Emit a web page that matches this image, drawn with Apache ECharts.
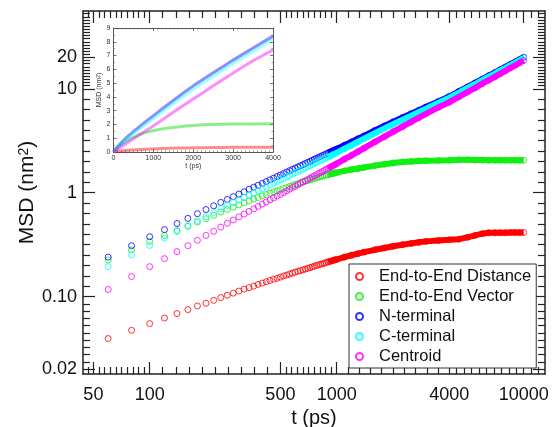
<!DOCTYPE html>
<html>
<head>
<meta charset="utf-8">
<title>MSD</title>
<script src="https://cdn.jsdelivr.net/npm/echarts@6/dist/echarts.min.js"></script>
<style>
    html, body { margin: 0; padding: 0; background: #fff; }
    #chart { width: 552px; height: 427px; }
</style>
</head>
<body>
<div id="chart"></div>
<script>
    // time points (ps)
    const times = [60, 80, 100, 120, 140, 160, 180, 200, 220, 240,
        260, 280, 300, 320, 340, 360, 380, 400, 420, 440, 460, 480, 500, 520, 540, 560, 580, 600, 620, 640,
        660, 680, 700, 720, 740, 760, 780, 800, 820, 840, 860, 880, 900, 920, 940, 960, 980, 1000,
        1100, 1200, 1300, 1400, 1600, 1800, 2000, 2250, 2500, 2750, 3000, 3500, 4000,
        4500, 5000, 5500, 6000, 6500, 7000, 7500, 8000, 8500, 9000, 9500, 10000]

    // MSD (nm^2)
    const endToEndDistance = [0.0395, 0.0474, 0.055, 0.0622, 0.0687, 0.075, 0.0813, 0.0863, 0.092, 0.0978,
        0.103, 0.108, 0.113, 0.118, 0.122, 0.126, 0.131, 0.135, 0.139, 0.143, 0.147, 0.150, 0.154, 0.158, 0.161, 0.165, 0.168, 0.172, 0.175, 0.178,
        0.181, 0.184, 0.187, 0.190, 0.193, 0.196, 0.199, 0.202, 0.205, 0.207, 0.210, 0.213, 0.216, 0.218, 0.221, 0.223, 0.226, 0.228,
        0.240, 0.250, 0.259, 0.268, 0.282, 0.294, 0.305, 0.316, 0.325, 0.333, 0.340, 0.347, 0.352,
        0.357, 0.372, 0.388, 0.403, 0.411, 0.412, 0.412, 0.412, 0.413, 0.413, 0.413, 0.414]
    const endToEndVector = [0.225, 0.281, 0.34, 0.388, 0.431, 0.474, 0.521, 0.562, 0.605, 0.651,
        0.69, 0.727, 0.763, 0.798, 0.832, 0.866, 0.898, 0.93, 0.959, 0.988, 1.02, 1.04, 1.07, 1.10, 1.12, 1.15, 1.17, 1.20, 1.22, 1.25,
        1.27, 1.29, 1.31, 1.33, 1.35, 1.37, 1.39, 1.41, 1.43, 1.44, 1.46, 1.48, 1.49, 1.51, 1.52, 1.53, 1.55, 1.56,
        1.62, 1.67, 1.71, 1.75, 1.82, 1.88, 1.93, 1.97, 2.00, 2.02, 2.03, 2.04, 2.05,
        2.07, 2.07, 2.06, 2.06, 2.05, 2.05, 2.05, 2.05, 2.05, 2.05, 2.05, 2.05]
    const nTerminal = [0.24, 0.309, 0.377, 0.441, 0.505, 0.566, 0.628, 0.688, 0.748, 0.806,
        0.861, 0.916, 0.97, 1.02, 1.08, 1.13, 1.18, 1.23, 1.28, 1.33, 1.38, 1.43, 1.48, 1.53, 1.58, 1.63, 1.68, 1.72, 1.77, 1.82,
        1.86, 1.91, 1.96, 2.00, 2.05, 2.10, 2.14, 2.19, 2.23, 2.28, 2.32, 2.37, 2.41, 2.46, 2.50, 2.54, 2.59, 2.63,
        2.86, 3.08, 3.30, 3.52, 3.96, 4.39, 4.80, 5.28, 5.75, 6.21, 6.67, 7.55, 8.41,
        9.41, 10.4, 11.38, 12.35, 13.34, 14.3, 15.28, 16.2, 17.2, 18.1, 19.1, 20.1]
    const cTerminal = [0.194, 0.253, 0.311, 0.366, 0.425, 0.482, 0.538, 0.588, 0.643, 0.702,
        0.752, 0.803, 0.852, 0.901, 0.95, 0.998, 1.05, 1.09, 1.14, 1.19, 1.24, 1.28, 1.33, 1.37, 1.42, 1.46, 1.51, 1.56, 1.60, 1.64,
        1.69, 1.73, 1.78, 1.82, 1.87, 1.91, 1.95, 2.00, 2.04, 2.08, 2.13, 2.17, 2.21, 2.25, 2.30, 2.34, 2.38, 2.42,
        2.65, 2.86, 3.09, 3.30, 3.73, 4.16, 4.56, 5.04, 5.51, 5.97, 6.44, 7.32, 8.20,
        9.18, 10.2, 11.1, 12.1, 13.1, 14.0, 15.0, 15.9, 16.9, 17.8, 18.8, 19.8]
    const centroid = [0.117, 0.156, 0.194, 0.232, 0.271, 0.309, 0.348, 0.388, 0.425, 0.467,
        0.507, 0.546, 0.585, 0.623, 0.661, 0.70, 0.738, 0.776, 0.814, 0.852, 0.89, 0.928, 0.965, 1.00, 1.04, 1.08, 1.12, 1.15, 1.19, 1.23,
        1.27, 1.30, 1.34, 1.38, 1.42, 1.45, 1.49, 1.53, 1.56, 1.60, 1.64, 1.68, 1.71, 1.75, 1.79, 1.82, 1.86, 1.90,
        2.10, 2.29, 2.48, 2.68, 3.08, 3.46, 3.85, 4.32, 4.80, 5.27, 5.74, 6.62, 7.42,
        8.36, 9.30, 10.2, 11.2, 12.1, 13.0, 14.0, 14.9, 15.9, 16.8, 17.8, 18.7]

    const seriesNames = ['End-to-End Distance', 'End-to-End Vector', 'N-terminal', 'C-terminal', 'Centroid']

    // tick labels
    const xTicks = [50, 100, 500, 1000, 4000, 10000]
    const xTickLabels = ['50', '100', '500', '1000', '4000', '10000']
    const yTicks = [0.02, 0.1, 1, 10, 20]
    const yTickLabels = ['0.02', '0.10', '1', '10', '20']

    const colors = ['#ff0000', '#11ee11', '#0000ff', '#00ffff', '#ff00ff']
    const insetColors = ['rgba(255,0,0,0.45)', 'rgba(0,220,0,0.45)', 'rgba(0,0,255,0.45)',
        'rgba(0,255,255,0.4)', 'rgba(255,0,255,0.45)']
    const values = [endToEndDistance, endToEndVector, nTerminal, cTerminal, centroid]

    const font = '"Liberation Sans", Arial, Helvetica, sans-serif'
    const ink = '#111'
    const X_MIN = 44, X_MAX = 13000, Y_MIN = 0.018, Y_MAX = 56

    // minor ticks: ten equal log steps between labelled ticks, carried on past both ends
    function minorTicks(major, lo, hi) {
        const out = []
        for (let i = 0; i < major.length - 1; i++) {
            const r = Math.pow(major[i + 1] / major[i], 0.1)
            for (let k = 1; k < 10; k++) out.push(major[i] * Math.pow(r, k))
        }
        let r = Math.pow(major[1] / major[0], 0.1)
        for (let v = major[0] / r; v > lo; v /= r) out.push(v)
        const n = major.length
        r = Math.pow(major[n - 1] / major[n - 2], 0.1)
        for (let v = major[n - 1] * r; v < hi; v *= r) out.push(v)
        return out
    }

    function labelFor(ticks, labels) {
        return v => {
            const i = ticks.findIndex(t => Math.abs(t - v) / t < 1e-6)
            return i >= 0 ? labels[i] : ''
        }
    }

    // one log axis of the main panel; several are stacked to get major + minor ticks on all 4 sides
    function mainAxis(position, min, max, tickValues, len, line, label) {
        return {
            type: 'log',
            logBase: 10,
            gridIndex: 0,
            position: position,
            min: min,
            max: max,
            axisLine: { show: line, onZero: false, lineStyle: { color: '#222', width: 1.5 } },
            axisTick: { show: true, inside: true, length: len, customValues: tickValues,
                lineStyle: { color: '#222', width: 1.2 } },
            minorTick: { show: false },
            splitLine: { show: false },
            axisLabel: label || { show: false }
        }
    }

    function insetAxis(position, min, max, interval, minorSplit, label, name) {
        const axis = {
            type: 'value',
            gridIndex: 1,
            position: position,
            min: min,
            max: max,
            interval: interval,
            axisLine: { show: true, onZero: false, lineStyle: { color: '#555', width: 1 } },
            axisTick: { show: true, inside: true, length: 3, lineStyle: { color: '#555', width: 0.8 } },
            minorTick: { show: true, splitNumber: minorSplit, length: 1.6, lineStyle: { color: '#666', width: 0.6 } },
            splitLine: { show: false },
            axisLabel: label ? { fontSize: 7, color: '#333', fontFamily: font, margin: 3, formatter: v => String(v) }
                : { show: false }
        }
        if (name) Object.assign(axis, name)
        return axis
    }

    const xMinor = minorTicks(xTicks, X_MIN, X_MAX)
    const yMinor = minorTicks(yTicks, Y_MIN, Y_MAX)

    const xAxes = [
        mainAxis('bottom', X_MIN, X_MAX, xTicks, 12, true, {
            show: true, customValues: xTicks, formatter: labelFor(xTicks, xTickLabels),
            fontSize: 18, fontFamily: font, color: ink, margin: 12
        }),
        mainAxis('top', X_MIN, X_MAX, xTicks, 12, true),
        mainAxis('bottom', X_MIN, X_MAX, xMinor, 7, false),
        mainAxis('top', X_MIN, X_MAX, xMinor, 7, false),
        insetAxis('bottom', 0, 4000, 1000, 10, true, {
            name: 't (ps)', nameLocation: 'middle', nameGap: 11,
            nameTextStyle: { fontSize: 7, color: '#333', fontFamily: font }
        }),
        insetAxis('top', 0, 4000, 1000, 10, false)
    ]
    Object.assign(xAxes[0], {
        name: 't (ps)', nameLocation: 'middle', nameGap: 34,
        nameTextStyle: { fontSize: 20, color: ink, fontFamily: font }
    })

    const yAxes = [
        mainAxis('left', Y_MIN, Y_MAX, yTicks, 12, true, {
            show: true, customValues: yTicks, formatter: labelFor(yTicks, yTickLabels),
            fontSize: 18, fontFamily: font, color: ink, margin: 6
        }),
        mainAxis('right', Y_MIN, Y_MAX, yTicks, 12, true),
        mainAxis('left', Y_MIN, Y_MAX, yMinor, 7, false),
        mainAxis('right', Y_MIN, Y_MAX, yMinor, 7, false),
        insetAxis('left', 0, 9, 1, 2, true, {
            name: 'MSD (nm{sup|2})', nameLocation: 'middle', nameGap: 9,
            nameTextStyle: { fontSize: 7, color: '#333', fontFamily: font,
                rich: { sup: { fontSize: 5, verticalAlign: 'top', lineHeight: 5 } } }
        }),
        insetAxis('right', 0, 9, 1, 2, false)
    ]
    Object.assign(yAxes[0], {
        name: 'MSD (nm{sup|2})', nameLocation: 'middle', nameGap: 45, nameMoveOverlap: false,
        nameTextStyle: { fontSize: 21, color: ink, fontFamily: font,
            rich: { sup: { fontSize: 14, verticalAlign: 'top', lineHeight: 14, color: ink, fontFamily: font } } }
    })

    const series = []
    values.forEach((vals, s) => {
        const pts = times.map((t, i) => [t, vals[i]])
        // dense part of the record reads as a solid band
        series.push({
            name: 'band ' + seriesNames[s],
            type: 'line',
            xAxisIndex: 0,
            yAxisIndex: 0,
            data: pts.filter(p => p[0] >= 900),
            showSymbol: false,
            lineStyle: { color: colors[s], width: 6 },
            silent: true
        })
        series.push({
            name: seriesNames[s],
            type: 'scatter',
            xAxisIndex: 0,
            yAxisIndex: 0,
            data: pts,
            symbol: 'circle',
            symbolSize: 6,
            itemStyle: { color: 'rgba(0,0,0,0)', borderColor: colors[s], borderWidth: 1 }
        })
    })
    // inset: linear axes, first 4000 ps, starting from the origin
    values.forEach((vals, s) => {
        const pts = [[0, 0]].concat(times.map((t, i) => [t, vals[i]]).filter(p => p[0] <= 4000))
        series.push({
            name: 'inset ' + seriesNames[s],
            type: 'line',
            xAxisIndex: 4,
            yAxisIndex: 4,
            data: pts,
            showSymbol: false,
            lineStyle: { color: insetColors[s], width: 3 },
            silent: true
        })
    })

    const option = {
        animation: false,
        backgroundColor: '#fff',
        grid: [
            { left: 83, top: 11, width: 462, height: 363, outerBoundsMode: 'none', containLabel: false },
            { left: 113.5, top: 28, width: 159.5, height: 124, show: true, backgroundColor: '#fff', borderWidth: 0,
                outerBoundsMode: 'none', containLabel: false }
        ],
        legend: {
            data: seriesNames,
            orient: 'vertical',
            left: 349,
            top: 264,
            padding: [4, 5, 3, 6],
            itemWidth: 29,
            itemHeight: 7,
            itemGap: 3,
            backgroundColor: '#fff',
            borderColor: '#333',
            borderWidth: 1,
            selectedMode: false,
            textStyle: { fontSize: 16.5, fontFamily: font, color: ink, lineHeight: 15 }
        },
        xAxis: xAxes,
        yAxis: yAxes,
        series: series
    }

    const myChart = echarts.init(document.getElementById('chart'), null, { renderer: 'canvas' })
    myChart.setOption(option)
</script>
</body>
</html>
